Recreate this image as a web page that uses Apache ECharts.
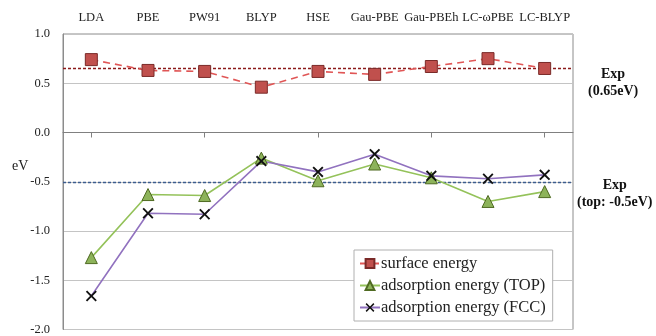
<!DOCTYPE html>
<html><head><meta charset="utf-8">
<script src="https://cdn.jsdelivr.net/npm/echarts@6/dist/echarts.min.js"></script>
<style>html,body{margin:0;padding:0;background:#fff}#c{width:656px;height:336px}</style>
</head><body><div id="c"></div>
<script>
const categories = ['LDA','PBE','PW91','BLYP','HSE','Gau-PBE','Gau-PBEh','LC-\u03c9PBE','LC-BLYP'];
const surfaceEnergy = [0.74, 0.63, 0.62, 0.46, 0.62, 0.59, 0.67, 0.75, 0.65];
const adsTop = [-1.27, -0.63, -0.64, -0.26, -0.49, -0.32, -0.46, -0.70, -0.60];
const adsFcc = [-1.66, -0.82, -0.83, -0.29, -0.40, -0.22, -0.44, -0.47, -0.43];
const expSurface = 0.65;
const expTop = -0.5;
const yTicks = {min: -2, max: 1, interval: 0.5};

const FONT = '"Liberation Serif", "Times New Roman", serif';
const xPath = 'path://M0,1.2L1.2,0L5,3.8L8.8,0L10,1.2L6.2,5L10,8.8L8.8,10L5,6.2L1.2,10L0,8.8L3.8,5Z';

const chart = echarts.init(document.getElementById('c'), null, {renderer: 'canvas'});
chart.setOption({
  animation: false,
  backgroundColor: '#fff',
  textStyle: {fontFamily: FONT},
  grid: {left: 63, right: 83, top: 34, bottom: 3, show: true, borderColor: '#8c8c8c', borderWidth: 1, backgroundColor: 'transparent'},
  graphic: [{type: 'text', left: 12, top: 159, style: {text: 'eV', font: '14px ' + FONT, fill: '#222'}}],
  legend: {
    orient: 'vertical', left: 354, top: 250,
    padding: [5, 7, 5, 5], itemGap: 5, itemWidth: 20, itemHeight: 11,
    borderColor: '#b0b0b0', borderWidth: 1, backgroundColor: '#fff',
    textStyle: {fontFamily: FONT, fontSize: 16.5, color: '#222', padding: [0, 0, 0, -4]},
    data: ['surface energy', 'adsorption energy (TOP)', 'adsorption energy (FCC)']
  },
  xAxis: [{
    type: 'category', data: categories, position: 'top', boundaryGap: true,
    axisLine: {show: false, onZero: false}, axisTick: {show: false}, splitLine: {show: false},
    axisLabel: {fontFamily: FONT, fontSize: 12.5, color: '#222', margin: 10, interval: 0}
  }, {
    type: 'category', data: categories, position: 'bottom', boundaryGap: true,
    axisLine: {show: true, onZero: true, onZeroAxisIndex: 0, lineStyle: {color: '#808080', width: 1}},
    axisTick: {show: true, alignWithLabel: true, length: 5, lineStyle: {color: '#808080'}},
    axisLabel: {show: false}, splitLine: {show: false}
  }],
  yAxis: {
    type: 'value', min: yTicks.min, max: yTicks.max, interval: yTicks.interval,
    axisLine: {show: true, lineStyle: {color: '#8c8c8c'}},
    axisTick: {show: false},
    splitLine: {show: true, lineStyle: {color: '#c4c4c4', width: 1}},
    axisLabel: {fontFamily: FONT, fontSize: 12.5, color: '#222', margin: 13, formatter: v => v.toFixed(1)}
  },
  series: [{
    name: 'surface energy', type: 'line', data: surfaceEnergy, xAxisIndex: 0,
    symbol: 'rect', symbolSize: 12, z: 5,
    lineStyle: {color: '#e05656', width: 1.6, type: [7, 5]},
    itemStyle: {color: '#c0504d', borderColor: '#7a2a28', borderWidth: 1},
    markLine: {
      silent: true, symbol: 'none', z: 3,
      lineStyle: {color: '#8b1a1a', width: 1.3, type: [3, 2]},
      label: {show: true, position: 'end', distance: 15, formatter: '{a|Exp}\n{a|(0.65eV)}',
        padding: [29, 0, 0, 0],
        rich: {a: {fontFamily: FONT, fontSize: 14, fontWeight: 'bold', color: '#111', align: 'center', lineHeight: 17}}},
      data: [{yAxis: expSurface}]
    }
  }, {
    name: 'adsorption energy (TOP)', type: 'line', data: adsTop, xAxisIndex: 0,
    symbol: 'triangle', symbolSize: 12, z: 4,
    lineStyle: {color: '#94c25a', width: 1.6},
    itemStyle: {color: '#8db35a', borderColor: '#4f6a22', borderWidth: 1},
    markLine: {
      silent: true, symbol: 'none', z: 3,
      lineStyle: {color: '#3c5d8e', width: 1.3, type: [3, 2]},
      label: {show: true, position: 'end', distance: 4, formatter: '{a|Exp}\n{a|(top: -0.5eV)}',
        padding: [24, 0, 0, 0],
        rich: {a: {fontFamily: FONT, fontSize: 14, fontWeight: 'bold', color: '#111', align: 'center', lineHeight: 17}}},
      data: [{yAxis: expTop}]
    }
  }, {
    name: 'adsorption energy (FCC)', type: 'line', data: adsFcc, xAxisIndex: 0,
    symbol: xPath, symbolSize: 11, z: 4,
    lineStyle: {color: '#9172bf', width: 1.6},
    itemStyle: {color: '#111', borderWidth: 0}
  }]
});
</script></body></html>
